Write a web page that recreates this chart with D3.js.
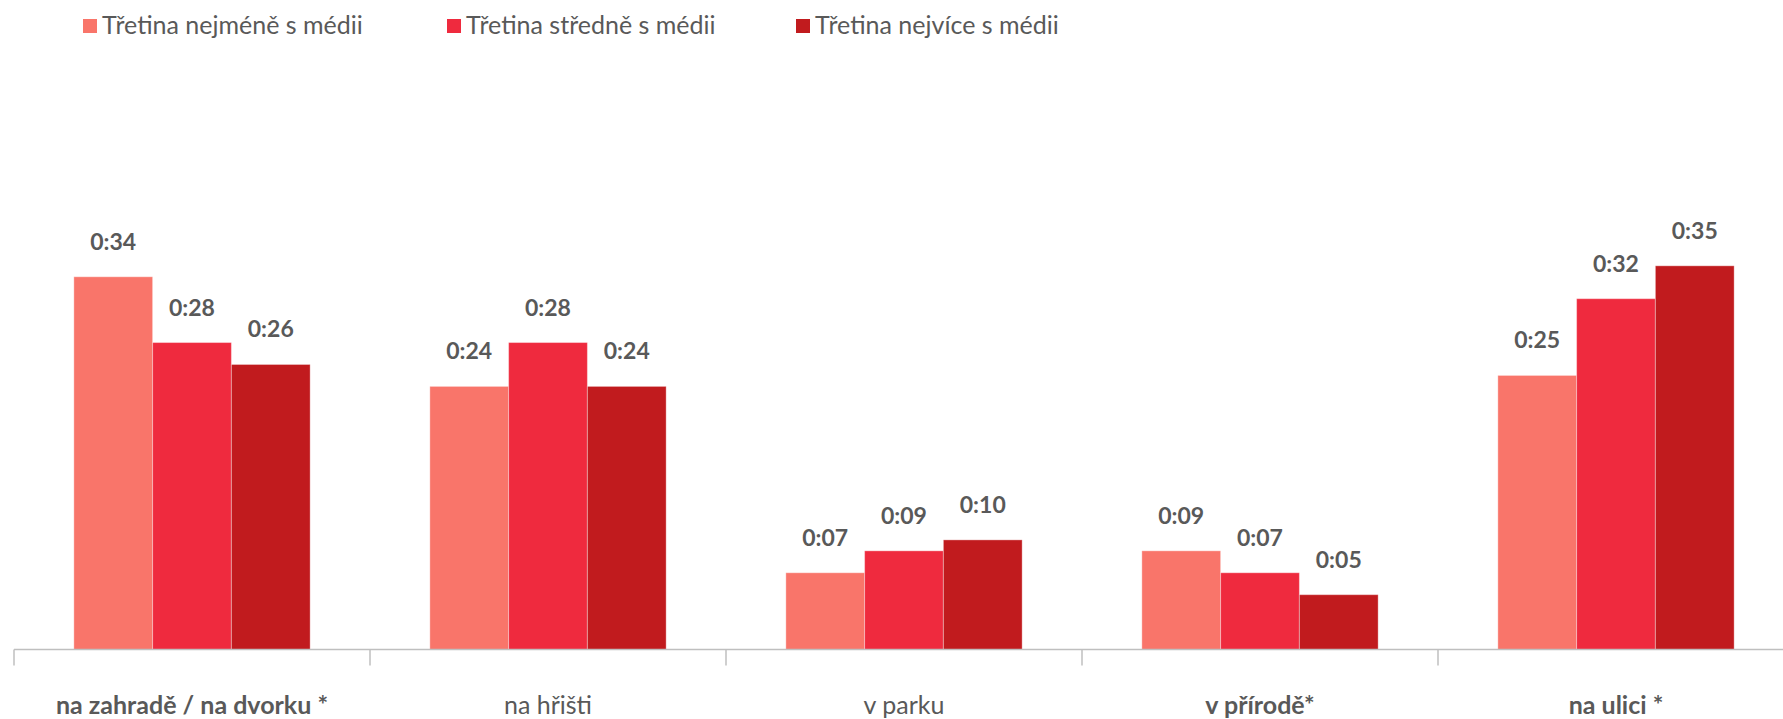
<!DOCTYPE html>
<meta charset="utf-8">
<style>
body { margin: 0; background: #fff; }
text { font-family: Lato, "Open Sans", sans-serif; fill: #595959; }
</style>
<body>
<script src="https://d3js.org/d3.v7.min.js"></script>
<script>

// data
var categories = ["na zahradě / na dvorku *", "na hřišti", "v parku", "v přírodě*", "na ulici *"];
var boldCategories = ["na zahradě / na dvorku *", "v přírodě*", "na ulici *"];
var seriesNames = ["Třetina nejméně s médii", "Třetina středně s médii", "Třetina nejvíce s médii"];
var leastMedia = [34, 24, 7, 9, 25];   // minutes
var middleMedia = [28, 28, 9, 7, 32];
var mostMedia = [26, 24, 10, 5, 35];
var colors = ["#F9756A", "#EF2A3E", "#C11B1E"];

var width = 1783, height = 719;
var svg = d3.select("body").append("svg")
    .attr("width", width)
    .attr("height", height);

var x0 = d3.scaleBand()
    .domain(categories)
    .range([14, 14 + 356 * 5])
    .paddingInner(0)
    .paddingOuter(0);

var x1 = d3.scaleBand()
    .domain(seriesNames)
    .range([0, x0.bandwidth()])
    .paddingOuter(0.76)
    .paddingInner(0);

var y = d3.scaleLinear()
    .domain([0, 40])
    .range([649.5, 211]);

var series = [leastMedia, middleMedia, mostMedia];

function fmt(v) {
  return "0:" + (v < 10 ? "0" + v : v);
}

// bars
var groups = svg.selectAll(".grp")
    .data(categories)
  .enter().append("g")
    .attr("class", "grp")
    .attr("transform", function(d) { return "translate(" + x0(d) + ",0)"; });

groups.each(function(cat, ci) {
  var g = d3.select(this);
  seriesNames.forEach(function(s, si) {
    var v = series[si][ci];
    g.append("rect")
        .attr("x", x1(s))
        .attr("width", x1.bandwidth())
        .attr("y", y(v))
        .attr("height", y(0) - y(v))
        .attr("fill", colors[si])
        .attr("stroke", "rgba(255,255,255,0.35)")
        .attr("stroke-width", 1);
    g.append("text")
        .attr("x", x1(s) + x1.bandwidth() / 2)
        .attr("y", y(v) - 27)
        .attr("text-anchor", "middle")
        .style("font-size", "23px")
        .style("font-weight", "bold")
        .text(fmt(v));
  });
});

// x axis
var axis = svg.append("g")
    .attr("transform", "translate(0," + y(0) + ")")
    .call(d3.axisBottom(x0).tickValues([]).tickSizeOuter(0));
axis.select(".domain").attr("stroke", "#BFBFBF").attr("stroke-width", 1.5)
    .attr("d", "M14,0H" + width);

// tick marks between categories
svg.append("g").selectAll("line")
    .data(categories)
  .enter().append("line")
    .attr("x1", function(d) { return x0(d); })
    .attr("x2", function(d) { return x0(d); })
    .attr("y1", y(0))
    .attr("y2", y(0) + 16)
    .attr("stroke", "#BFBFBF")
    .attr("stroke-width", 1.5);

// category labels
svg.append("g").selectAll("text")
    .data(categories)
  .enter().append("text")
    .attr("x", function(d) { return x0(d) + x0.bandwidth() / 2; })
    .attr("y", 714)
    .attr("text-anchor", "middle")
    .style("font-size", "25px")
    .style("font-weight", function(d) { return boldCategories.indexOf(d) >= 0 ? "bold" : "normal"; })
    .text(function(d) { return d; });

// legend
var legendX = [83, 447, 796];
var legend = svg.append("g").selectAll("g")
    .data(seriesNames)
  .enter().append("g")
    .attr("transform", function(d, i) { return "translate(" + legendX[i] + ",19)"; });
legend.append("rect")
    .attr("width", 14)
    .attr("height", 14)
    .attr("fill", function(d, i) { return colors[i]; });
legend.append("text")
    .attr("x", 19)
    .attr("y", 15)
    .style("font-size", "25px")
    .text(function(d) { return d; });

</script>
</body>
